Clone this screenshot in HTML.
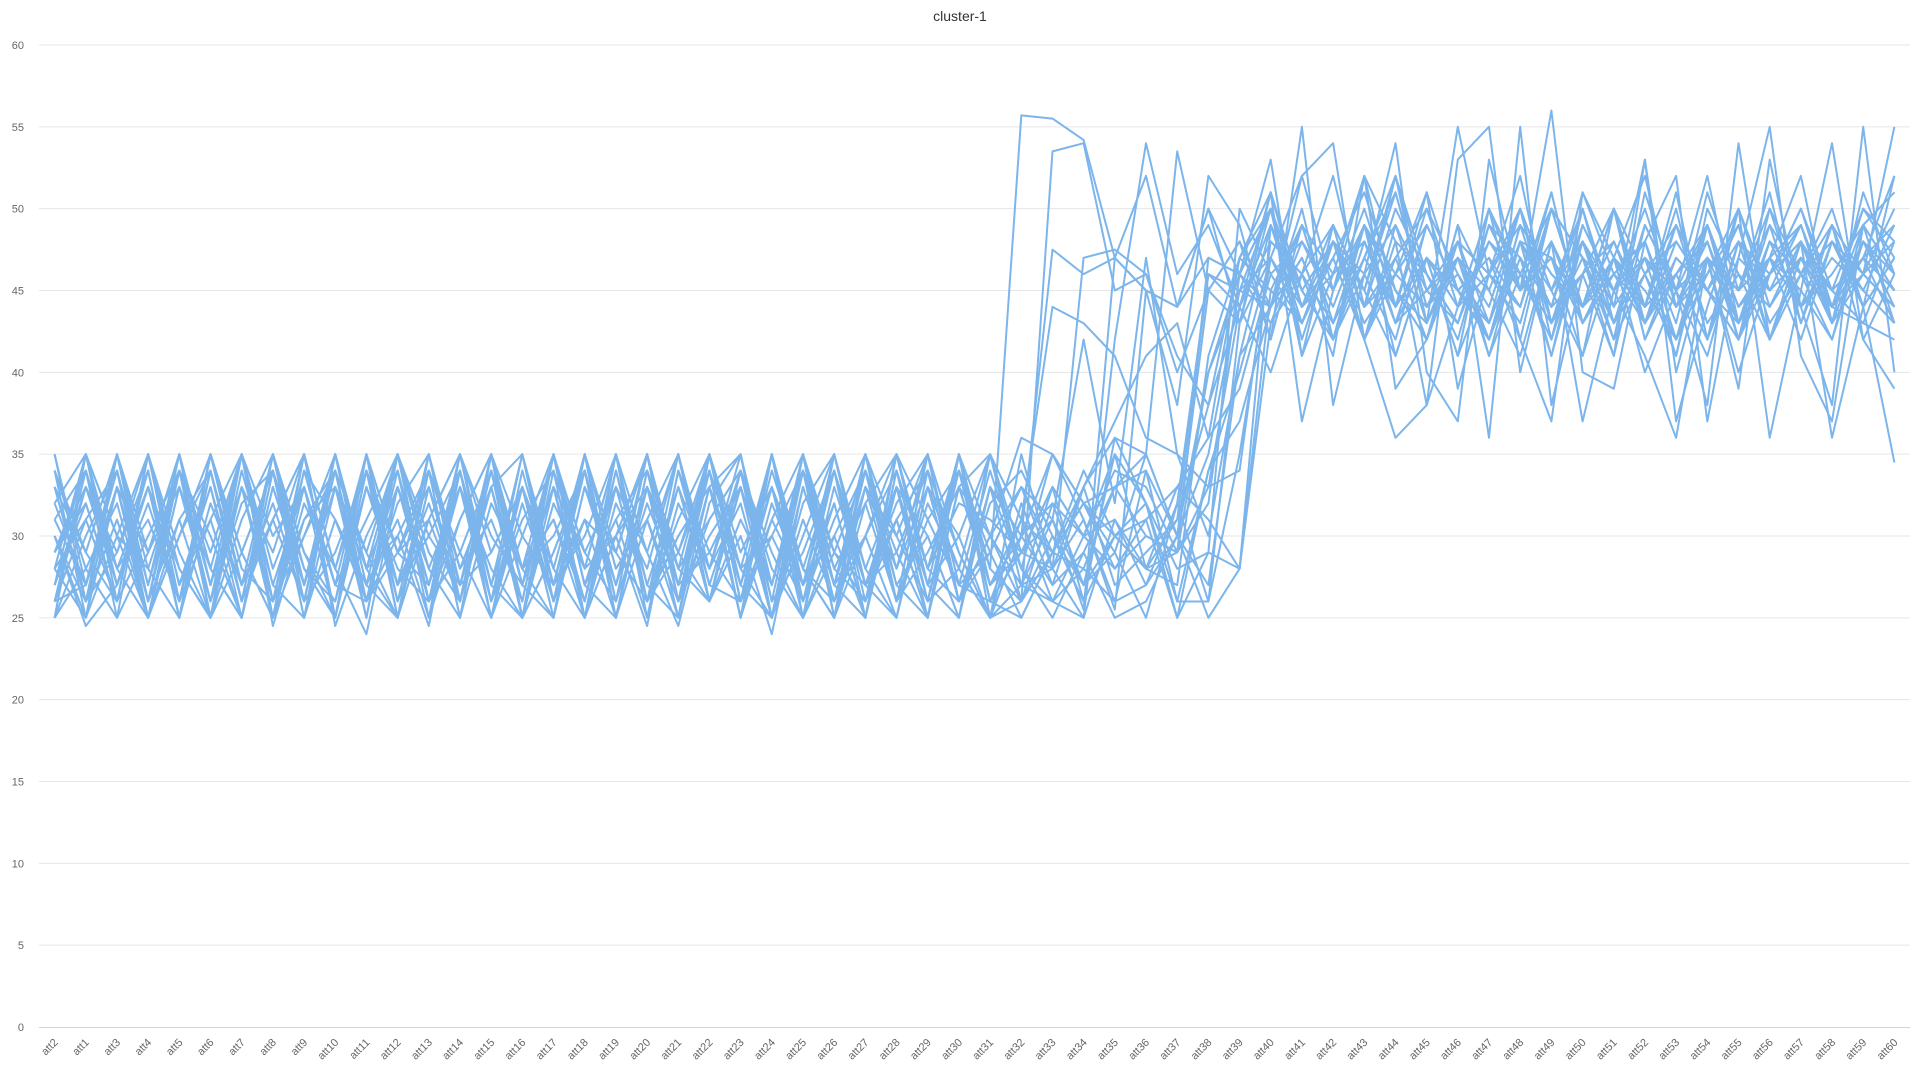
<!DOCTYPE html>
<html><head><meta charset="utf-8"><style>
html,body{margin:0;padding:0;background:#fff;width:1920px;height:1080px;overflow:hidden}
svg{display:block;font-family:"Liberation Sans",sans-serif}
</style></head><body>
<svg id="chart" width="1920" height="1080"></svg>
<script>
const categories=["att2","att1"];for(let i=3;i<=60;i++)categories.push("att"+i);
const yTicks=[0,5,10,15,20,25,30,35,40,45,50,55,60];
const s01=[30,25,35,27,34,25,33,26,35,28,24,33,27,35,26,31,34,25,32,28,35,26,30,24,33,27,34,29,25,35,28,55.7,55.5,54.2,47,52,44,50,46,53,41,49,45,52,43,55,46,50,42,48,44,53,40,47,45,51,43,49,46,55];
const s02=[26,34,28,33,25,35,27,31,26,34,29,25,35,28,33,26,35,27,31,25,34,29,26,35,27,32,25,34,28,26,33,30,47.5,46,47,45,44,50,43,47,52,45,49,41,47,44,50,46,43,48,42,51,45,47,40,46,49,44,48,45];
const s03=[34,28,25,35,27,33,26,35,29,25,34,27,32,26,35,28,25,33,27,35,26,31,34,25,30,35,27,25,33,28,25,26,53.5,54,45,46,41,38,47,50,45,42,48,44,51,39,46,43,50,47,41,49,45,52,43,48,46,50,44,47];
const s04=[28,35,26,30,34,27,35,25,32,28,35,26,34,29,25,33,28,35,26,32,27,34,25,31,35,28,26,33,30,25,35,29,28,47,47.5,46,40,45,48,44,50,42,46,49,43,47,45,41,48,44,50,46,42,47,45,49,43,48,46,44];
const s05=[25,30,34,26,35,28,25,33,27,35,26,30,34,25,32,28,35,27,25,34,29,26,33,27,35,25,30,34,26,28,25,27,26,25,42,54,46,49,44,51,45,48,42,47,50,44,46,52,43,49,45,47,41,50,46,44,48,43,51,46];
const s06=[32,27,33,25,30,34,26,35,28,25,33,27,35,26,34,28,31,25,35,27,33,26,34,28,25,35,27,32,35,26,30,33,29,28,33,35,53.5,45,48,42,49,46,52,44,47,41,50,45,48,43,47,52,44,46,49,42,47,45,50,48];
const s07=[27,33,29,35,26,31,25,34,27,35,28,33,26,31,35,25,29,34,27,33,25,35,28,30,26,34,27,31,25,33,27,30,32,30,31,28,31,46,44,49,43,47,51,45,42,48,46,44,50,47,43,49,45,41,48,46,50,44,47,49];
const s08=[35,26,31,25,34,29,35,27,25,33,28,35,26,34,25,30,35,27,33,26,29,34,25,35,28,26,33,30,35,27,26,29,31,27,30,32,26,34,40,47,44,49,42,46,51,45,43,48,47,44,50,42,46,49,44,47,52,43,48,46];
const s09=[30,24.5,27,33,26,35,29,25,34,27,31,35,26,29,34,25,32,28,35,26,30,33,25,35,28,34,26,31,25,33,35,28,25,29,33,30,29,33,34,48,46,52,44,47,42,49,45,50,43,46,48,44,51,42,47,45,49,43,48,44];
const s10=[29,32,26,35,28,25,34,27,33,25,35,29,31,26,34,27,35,25,30,33,27,35,26,34,28,25,32,35,27,30,25,30,35,32,30,28,33,31,28,45,49,43,47,51,44,46,42,48,45,50,43,47,44,49,42,46,50,45,43,48];
const s11=[33,26,35,28,25,34,26,31,35,24.5,30,34,27,33,26,35,28,25,33,29,35,26,31,27,34,25,35,28,33,26,29,33,31,25.5,47,45,44,47,46,50,42,48,44,52,46,43,49,47,41,48,45,50,44,47,43,49,46,42,48,45];
const s12=[25,35,27,32,26,35,29,34,25,31,26,35,28,33,25,34,27,30,35,25,32,28,34,26,35,27,30,25,34,29,25,35,28,33,36,35,30,35,45,50,41,46,48,43,49,45,47,42,50,44,46,48,43,51,45,47,44,49,42,46];
const s13=[31,34,25,29,35,27,33,25,35,28,34,26,31,35,27,25,33,29,26,35,28,31,34,25,33,27,35,26,31,34,28,26,30,27,35,32,28,29,50,46,43,48,45,51,44,47,42,49,46,44,50,43,47,45,48,42,46,49,44,47];
const s14=[28,25,33,26,34,30,25,35,27,33,26,29,34,25,35,28,31,26,34,27,25,35,29,33,26,31,35,27,25,33,30,27,28,31,26,27,32,46,45,44,49,43,47,52,45,48,41,46,50,44,47,43,49,45,42,48,46,44,50,47];
const s15=[34,29,26,35,27,31,35,25,30,34,26,33,28,25,35,27,33,25,30,35,26,34,28,25,32,35,27,29,34,26,32,34,30,26,30,28,27,41,47,45,43,48,46,42,49,45,47,44,51,43,46,48,42,47,45,50,44,46,49,43];
const s16=[27,35,30,25,33,26,35,28,33,25,35,27,30,34,25,32,26,35,28,31,25,33,35,26,29,34,25,33,27,35,25,32,27,29,25,26,30,45,43,50,44,47,42,48,46,43,49,45,47,41,50,44,46,48,43,47,45,42,49,46];
const s17=[26,31,34,27,35,25,29,34,26,35,28,25,33,27,35,25,29,34,27,33,25,35,26,30,34,27,25,35,28,32,31,29,33,26,36,32,25,34,37,44,47,42,49,45,43,48,46,44,50,47,42,46,49,45,43,48,44,47,45,49];
const s18=[35,27,33,25,31,34,26,35,29,26,33,27,35,26,33,25,35,28,30,24.5,34,27,33,25,35,29,27,33,26,35,27,31,29,32,28,30,29,47,46,50,44,48,43,46,49,45,42,47,44,51,46,43,48,45,49,42,47,44,46,50];
const s19=[29,33,27,34,25,32,27,35,26,29,34,25,31,35,27,33,25,35,29,26,33,28,35,25,31,26,34,27,30,25,33,28,26,30,34,33,29,40,46,43,48,45,50,44,47,41,46,49,43,47,45,48,42,46,50,44,47,43,48,45];
const s20=[25,28,32,25,30,35,28,26,34,31,27,35,29,26,33,35,27,31,25,34,28,35,26,33,27,30,25,35,28,34,26,25,29,32,33,34,26,26,43,51,44,47,42,49,45,43,48,46,42,50,44,47,45,49,43,46,48,44,47,43];
const s21=[32,35,28,31,26,35,29,25,33,27,35,25,34,28,31,26,35,29,33,26,31,35,27,25,34,29,26,35,31,27,34,28,35,32,29,35,30,25,28,49,45,42,47,44,50,46,43,48,41,49,45,47,44,48,42,50,46,44,47,45];
const s22=[26,27,35,29,33,26,32,34,25,35,27,31,25,35,30,27,33,25,34,26,35,28,32,25,35,27,33,26,35,29,25,30,27,33,27,29,31,38,44,48,46,43,49,45,42,47,44,50,45,48,43,46,41,49,44,47,42,48,45,43];
const s23=[34,25,30,35,26,34,27,31,35,25,33,28,26,35,29,33,26,34,25,31,35,27,26,33,28,25,35,30,26,34,29,33,28,25,31,27,30,40,45,47,43,48,44,50,46,42,49,45,47,43,46,44,50,42,48,45,47,44,49,46];
const s24=[29,34,27,33,28,25,35,26,30,35,27,25,33,26,35,28,30,34,26,35,27,29,33,25,34,28,32,26,35,27,29,25,29,34,30,31,25,29,28,43,46,49,45,41,47,44,48,45,51,43,47,45,42,49,44,46,48,43,46,44];
const s25=[30,26,33,29,35,28,25,33,27,34,25,35,30,27,33,25,34,28,35,26,30,33,27,35,26,32,25,34,28,35,26,31,26,28,26,34,30,27,41,49,44,46,48,43,47,45,42,49,46,44,48,43,46,42,50,45,47,44,43,42];
const s26=[28,31,26,35,27,33,25,34,28,26,35,29,27,34,26,33,27,35,25,33,28,26,34,29,25,33,27,31,34,26,30,26,32,27,29,25,32,26,35,47,43,48,44,46,49,45,42,47,44,50,43,46,48,45,42,47,49,44,46,48];
const s27=[33,29,35,26,31,25,35,30,33,27,26,34,25,31,35,27,25,33,29,35,26,34,25,32,27,35,28,25,33,30,35,27,33,30,28,31,33,36,39,46,48,44,49,43,45,47,41,48,44,46,50,42,47,45,49,43,46,48,44,34.5];
const s28=[26,33,28,25,34,27,35,26,31,33,29,35,26,33,28,25,35,27,31,34,26,33,28,35,25,30,34,26,29,33,27,29,33,30,35,28,29,32,46,44,47,42,49,46,44,48,43,50,45,41,47,44,49,43,46,42,48,45,47,52];
const s29=[31,27,34,25,33,28,35,24.5,31,34,26,32,35,27,29,33,25,35,28,31,26,35,27,33,25,29,34,26,32,28,35,31,44,43,41,36,35,30,41,44,52,54,42,36,38,53,55,40,48,37,45,41,36,47,39,53,44,38,55,40];
const s30=[27,32,26,35,29,25,31,35,27,33,25,35,29,26,34,28,33,26,35,29,24.5,32,35,27,34,26,30,35,27,25,33,26,29,33,37,41,43,36,47,51,37,45,52,39,42,49,36,55,38,46,41,53,37,44,50,36,45,54,42,39];
const s31=[33,26,29,34,25,35,27,32,26,35,28,30,24.5,34,27,35,26,31,29,35,26,30,33,27,35,25,33,28,35,26,30,36,35,31,25.5,45,38,52,49,42,55,38,46,54,40,37,53,45,56,40,39,48,52,37,47,55,41,37,49,51];
const s32=[25,35,30,28,34,26,33,29,35,25,34,29,33,26,35,30,27,34,25,33,29,35,26,31,27,34,28,33,25,35,30,27,31,42,32,47,35,33,44,40,46,41,52,48,38,44,50,42,37,51,47,40,45,38,54,42,48,36,44,52];
const series=[s01,s02,s03,s04,s05,s06,s07,s08,s09,s10,s11,s12,s13,s14,s15,s16,s17,s18,s19,s20,s21,s22,s23,s24,s25,s26,s27,s28,s29,s30,s31,s32];

const NS="http://www.w3.org/2000/svg";
const svg=document.getElementById('chart');
const L=39,R=1910,T=45,B=1027,yMax=60;
const bw=(R-L)/categories.length;
const xPos=i=>L+bw*(i+0.5);
const yPos=v=>B-(v/yMax)*(B-T);
function mk(tag,attrs){const e=document.createElementNS(NS,tag);for(const k in attrs)e.setAttribute(k,attrs[k]);svg.appendChild(e);return e;}

const title=mk('text',{x:960,y:21,'text-anchor':'middle','font-size':14,fill:'#333'});
title.textContent='cluster-1';



yTicks.forEach(v=>{
  const y=yPos(v);
  if(v>0){const g=mk('line',{x1:L,x2:R,y1:y,y2:y,stroke:'#e6e6e6','stroke-width':1});
  
  }
  const t=mk('text',{x:24,y:y+4,'text-anchor':'end','font-size':11,fill:'#666'});
  t.textContent=v;
  
  
});
const ax=mk('line',{x1:L,x2:R,y1:B+0.5,y2:B+0.5,stroke:'#ccd6eb','stroke-width':1});



categories.forEach((c,i)=>{
  const x=xPos(i);
  const t=mk('text',{x:x+4,y:B+16,'text-anchor':'end','font-size':11,fill:'#666',transform:`rotate(-45 ${x+4} ${B+16})`});
  t.textContent=c;
  
  
});

series.forEach((s,k)=>{
  const d=s.map((v,i)=>(i?'L':'M')+xPos(i).toFixed(1)+' '+yPos(v).toFixed(1)).join(' ');
  const p=mk('path',{d:d,fill:'none',stroke:'#7cb5ec','stroke-width':2,'stroke-linejoin':'round'});
  
  
});
</script>
</body></html>
